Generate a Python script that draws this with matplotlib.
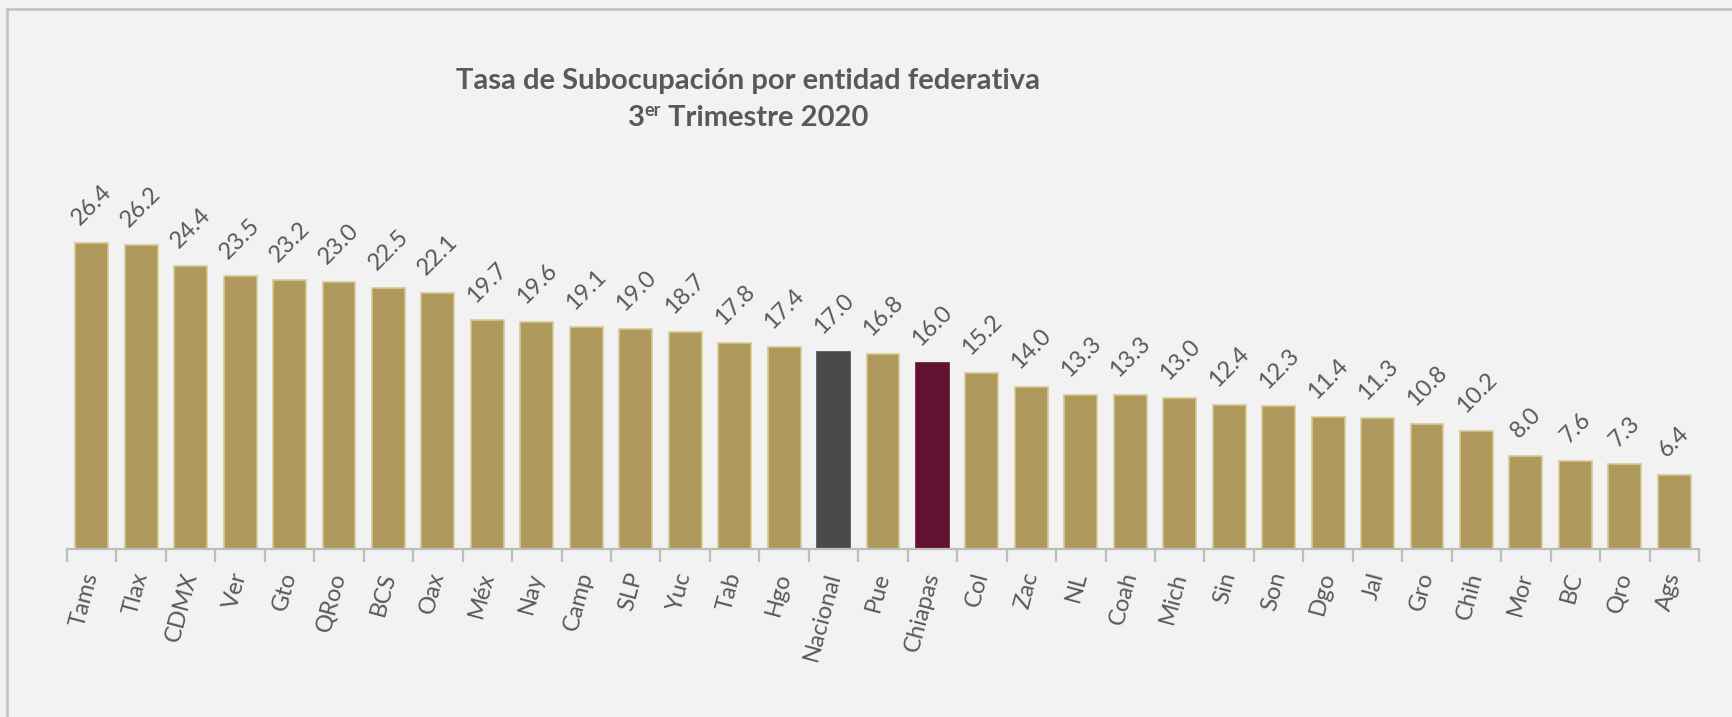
import matplotlib
matplotlib.use("Agg")
import matplotlib.pyplot as plt
from matplotlib.lines import Line2D
import numpy as np

categories = ["Tams", "Tlax", "CDMX", "Ver", "Gto", "QRoo", "BCS", "Oax", "Méx", "Nay",
              "Camp", "SLP", "Yuc", "Tab", "Hgo", "Nacional", "Pue", "Chiapas", "Col", "Zac",
              "NL", "Coah", "Mich", "Sin", "Son", "Dgo", "Jal", "Gro", "Chih", "Mor",
              "BC", "Qro", "Ags"]
values = [26.4, 26.2, 24.4, 23.5, 23.2, 23.0, 22.5, 22.1, 19.7, 19.6,
          19.1, 19.0, 18.7, 17.8, 17.4, 17.0, 16.8, 16.0, 15.2, 14.0,
          13.3, 13.3, 13.0, 12.4, 12.3, 11.4, 11.3, 10.8, 10.2, 8.0,
          7.6, 7.3, 6.4]
title_line1 = "Tasa de Subocupación por entidad federativa"
title_line2 = ("3", "er", " Trimestre 2020")

GOLD = "#af985b"
GOLD_EDGE = "#d6c794"
GRAY = "#4a4a4a"
MAROON = "#621132"
TXT = "#595959"
BG = "#f2f2f2"
AXC = "#bdbdbd"
FONT = "Lato"

W, H = 1733, 717
fig = plt.figure(figsize=(W / 100, H / 100), dpi=100, facecolor=BG)

# chart border (top and left visible)
fig.add_artist(Line2D([7 / W, 1], [1 - 9 / H, 1 - 9 / H], color="#c4c4c4", lw=2.0, transform=fig.transFigure))
fig.add_artist(Line2D([7 / W, 7 / W], [0, 1 - 9 / H], color="#c4c4c4", lw=2.0, transform=fig.transFigure))

left, right_px, base_px = 67, 1699, 549
ymax = 30
px_per_unit = 11.6
top_px = base_px - ymax * px_per_unit
ax = fig.add_axes([left / W, (H - base_px) / H, (right_px - left) / W, (base_px - top_px) / H])
ax.set_facecolor("none")

x = np.arange(len(categories))
colors = []
edges = []
for c in categories:
    if c == "Nacional":
        colors.append(GRAY); edges.append(GRAY)
    elif c == "Chiapas":
        colors.append(MAROON); edges.append(MAROON)
    else:
        colors.append(GOLD); edges.append(GOLD_EDGE)

ax.bar(x, values, width=0.667, color=colors, edgecolor=edges, linewidth=1.2, zorder=2)

ax.set_xlim(-0.5, len(categories) - 0.5)
ax.set_ylim(0, ymax)
for s in ["top", "right", "left"]:
    ax.spines[s].set_visible(False)
ax.spines["bottom"].set_color(AXC)
ax.spines["bottom"].set_linewidth(1.6)
ax.set_yticks([])

ax.set_xticks(x)
ax.set_xticklabels(categories, rotation=75, ha="right", va="center",
                   rotation_mode="anchor", fontsize=17, color=TXT, fontfamily=FONT)
ax.tick_params(axis="x", which="major", length=0, pad=17)
ax.set_xticks(np.arange(-0.5, len(categories), 1.0), minor=True)
ax.tick_params(axis="x", which="minor", length=9, width=1.6, color=AXC, direction="out")

for xi, v in zip(x, values):
    ax.annotate(f"{v:.1f}", xy=(xi, v), xytext=(0, 10), textcoords="offset points",
                rotation=45, ha="center", va="bottom", fontsize=17, color=TXT,
                fontfamily=FONT)

# Title
cx = 748 / W
TS = 21
fig.text(cx, 1 - 89 / H, title_line1, ha="center", va="baseline", fontsize=TS,
         fontweight="bold", color=TXT, fontfamily=FONT)

fig.canvas.draw()
r = fig.canvas.get_renderer()
y2 = 1 - 126 / H
p1 = fig.text(0, y2, title_line2[0], ha="left", va="baseline", fontsize=TS,
              fontweight="bold", color=TXT, fontfamily=FONT)
p2 = fig.text(0, y2 + 10 / H, title_line2[1], ha="left", va="baseline", fontsize=13,
              fontweight="bold", color=TXT, fontfamily=FONT)
p3 = fig.text(0, y2, title_line2[2], ha="left", va="baseline", fontsize=TS,
              fontweight="bold", color=TXT, fontfamily=FONT)
ws = [p.get_window_extent(r).width / W for p in (p1, p2, p3)]
total = sum(ws)
start = cx - total / 2
p1.set_x(start)
p2.set_x(start + ws[0])
p3.set_x(start + ws[0] + ws[1])

fig.savefig("out.png", dpi=100, facecolor=BG)
